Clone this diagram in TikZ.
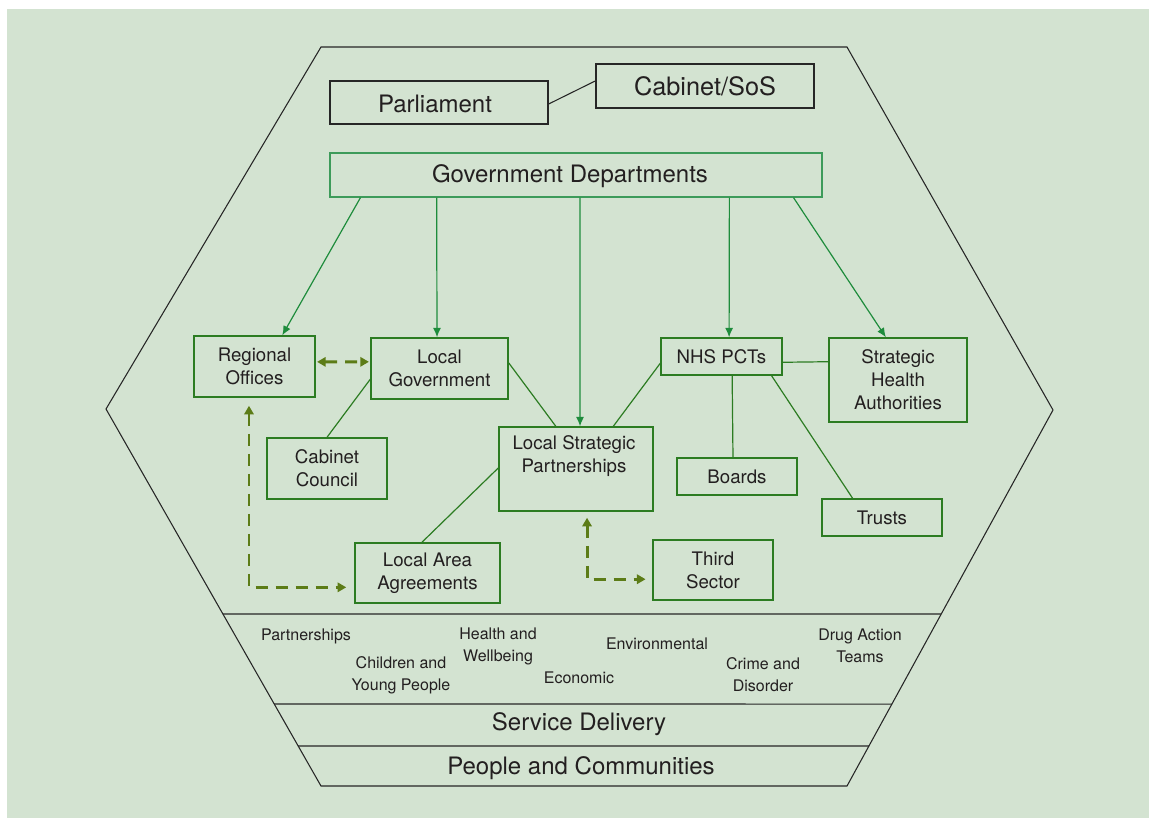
\documentclass[tikz,border=0pt]{standalone}
\usepackage{fontspec}
\setmainfont{TeX Gyre Heros}
\usetikzlibrary{calc,arrows.meta}
\definecolor{bgc}{HTML}{D3E3D1}
\definecolor{boxc}{HTML}{2C7C22}
\definecolor{gdc}{HTML}{3D9B5A}
\definecolor{arrc}{HTML}{1E8C3C}
\definecolor{dashc}{HTML}{5C7C17}
\definecolor{txtc}{HTML}{231F20}
\tikzset{
  bigfont/.style={font=\fontsize{18}{22}\selectfont},
  midfont/.style={font=\fontsize{14}{17.25}\selectfont},
  smallfont/.style={font=\fontsize{12}{16.5}\selectfont},
  blackbox/.style={draw=black!85, line width=0.8pt, text=txtc, bigfont, inner sep=0pt},
  gdbox/.style={draw=gdc, line width=0.9pt, text=txtc, bigfont, inner sep=0pt},
  gbox/.style={draw=boxc, line width=1.1pt, text=txtc, midfont, align=center, inner sep=0pt},
  txt/.style={text=txtc, align=center, inner sep=0pt},
  hexline/.style={draw=black!85, line width=0.8pt},
  downarrow/.style={draw=arrc, line width=0.9pt, -{Latex[length=7pt,width=6pt]}},
  link/.style={draw=boxc, line width=0.9pt},
  dasharrow/.style={draw=dashc, line width=2.2pt, dash pattern=on 9pt off 6pt,
     {Triangle[length=6.5pt,width=7pt]}-{Triangle[length=6.5pt,width=7pt]}},
}
\begin{document}
\begin{tikzpicture}[x=0.75pt,y=-0.75pt]
\useasboundingbox (0,0) rectangle (1154,818);
\fill[white] (0,0) rectangle (1154,818);
\fill[bgc] (7,9) rectangle (1149,818);

% hexagon
\coordinate (hTL) at (321,47);
\coordinate (hTR) at (847,47);
\coordinate (hR) at (1053,410);
\coordinate (hBR) at (847,786);
\coordinate (hBL) at (321,786);
\coordinate (hL) at (106,409);
\draw[hexline] (hTL) -- (hTR) -- (hR) -- (hBR) -- (hBL) -- (hL) -- cycle;
\draw[hexline] ($(hL)!0.5438!(hBL)$) -- ($(hR)!0.5426!(hBR)$);
\draw[hexline] ($(hL)!0.7825!(hBL)$) -- ($(hR)!0.782!(hBR)$);
\draw[hexline] ($(hL)!0.8939!(hBL)$) -- ($(hR)!0.8936!(hBR)$);

% top boxes
\node[blackbox, minimum width=163.5pt, minimum height=32.25pt] (parl) at (439,102.5) {};
\node[txt, bigfont] (parltxt) at ($(parl.center)+(-4,1)$) {Parliament};
\node[blackbox, minimum width=163.5pt, minimum height=33pt, font=\fontsize{19}{22}\selectfont] (cab) at (705,86) {Cabinet/SoS};
\node[gdbox, minimum width=369pt, minimum height=33pt] (gd) at (576,175) {};
\node[txt, bigfont] (gdtxt) at ($(gd.center)+(-6,1.5)$) {Government Departments};

% middle boxes
\node[gbox, minimum width=90.75pt, minimum height=45.75pt] (ro) at (254.5,366.5) {Regional\\Offices};
\node[gbox, minimum width=102.75pt, minimum height=45.75pt] (lg) at (439.5,368.5) {Local\\Government};
\node[gbox, minimum width=90pt, minimum height=45.75pt] (cc) at (327,468.5) {Cabinet\\Council};
\node[gbox, minimum width=115.5pt, minimum height=63pt] (lsp) at (576,469) {};
\node[txt, midfont] (lsptxt) at ($(lsp.north)+(-2,30)$) {Local Strategic\\Partnerships};
\node[gbox, minimum width=108.75pt, minimum height=45pt] (laa) at (427.5,573) {Local Area\\Agreements};
\node[gbox, minimum width=90pt, minimum height=45pt] (ts) at (713,570) {Third\\Sector};
\node[gbox, minimum width=90.75pt, minimum height=27.75pt] (nhs) at (721.5,356.5) {NHS PCTs};
\node[gbox, minimum width=103.5pt, minimum height=63pt] (sha) at (898,380) {Strategic\\Health\\Authorities};
\node[gbox, minimum width=90pt, minimum height=27.75pt] (boards) at (737,476.5) {Boards};
\node[gbox, minimum width=90pt, minimum height=27.75pt] (trusts) at (882,517.5) {Trusts};

% bottom strip texts
\node[txt, smallfont] (t1) at (306,636) {Partnerships};
\node[txt, smallfont] (t2) at (401,675) {Children and\\Young People};
\node[txt, smallfont] (t3) at (498,646) {Health and\\Wellbeing};
\node[txt, smallfont] (t4) at (579,678) {Economic};
\node[txt, smallfont] (t5) at (657,644) {Environmental};
\node[txt, smallfont] (t6) at (763,675) {Crime and\\Disorder};
\node[txt, smallfont] (t7) at (860,646) {Drug Action\\Teams};
\node[txt, bigfont] (sd) at (579,724) {Service Delivery};
\node[txt, bigfont] (pc) at (581,768) {People and Communities};

% connectors
\draw[black!85, line width=0.8pt] ($(parl.north east)!0.535!(parl.south east)$) -- ($(cab.north west)!0.386!(cab.south west)$);

\draw[downarrow] ($(gd.south west)!0.063!(gd.south east)$) -- ($(ro.north west)!0.727!(ro.north east)$);
\draw[downarrow] ($(gd.south west)!0.2175!(gd.south east)$) -- ($(lg.north west)!0.482!(lg.north east)$);
\draw[downarrow] ($(gd.south west)!0.508!(gd.south east)$) -- ($(lsp.north west)!0.526!(lsp.north east)$);
\draw[downarrow] ($(gd.south west)!0.811!(gd.south east)$) -- ($(nhs.north west)!0.562!(nhs.north east)$);
\draw[downarrow] ($(gd.south west)!0.941!(gd.south east)$) -- ($(sha.north west)!0.413!(sha.north east)$);

\draw[link] ($(nhs.north east)!0.65!(nhs.south east)$) -- ($(sha.north west)!0.286!(sha.south west)$);
\draw[link] ($(nhs.south west)!0.587!(nhs.south east)$) -- ($(boards.north west)!0.467!(boards.north east)$);
\draw[link] ($(nhs.south west)!0.909!(nhs.south east)$) -- ($(trusts.north west)!0.258!(trusts.north east)$);
\draw[link] ($(nhs.north west)!0.676!(nhs.south west)$) -- ($(lsp.north west)!0.74!(lsp.north east)$);
\draw[link] ($(lg.north east)!0.41!(lg.south east)$) -- ($(lsp.north west)!0.37!(lsp.north east)$);
\draw[link] ($(lg.north west)!0.672!(lg.south west)$) -- (cc.north);
\draw[link] ($(lsp.north west)!0.488!(lsp.south west)$) -- ($(laa.north west)!0.462!(laa.north east)$);

% dashed two-way arrows
\draw[dasharrow, shorten <=1pt, shorten >=1pt] ($(ro.north east)!0.426!(ro.south east)$) -- ($(lg.north west)!0.393!(lg.south west)$);
\draw[dasharrow, shorten <=6pt, shorten >=6pt] ($(ro.south west)!0.455!(ro.south east)$) |- ($(laa.north west)!0.733!(laa.south west)$);
\draw[dasharrow, shorten <=4.5pt, shorten >=5pt] ($(lsp.south west)!0.571!(lsp.south east)$) |- ($(ts.north west)!0.65!(ts.south west)$);
\end{tikzpicture}
\end{document}
